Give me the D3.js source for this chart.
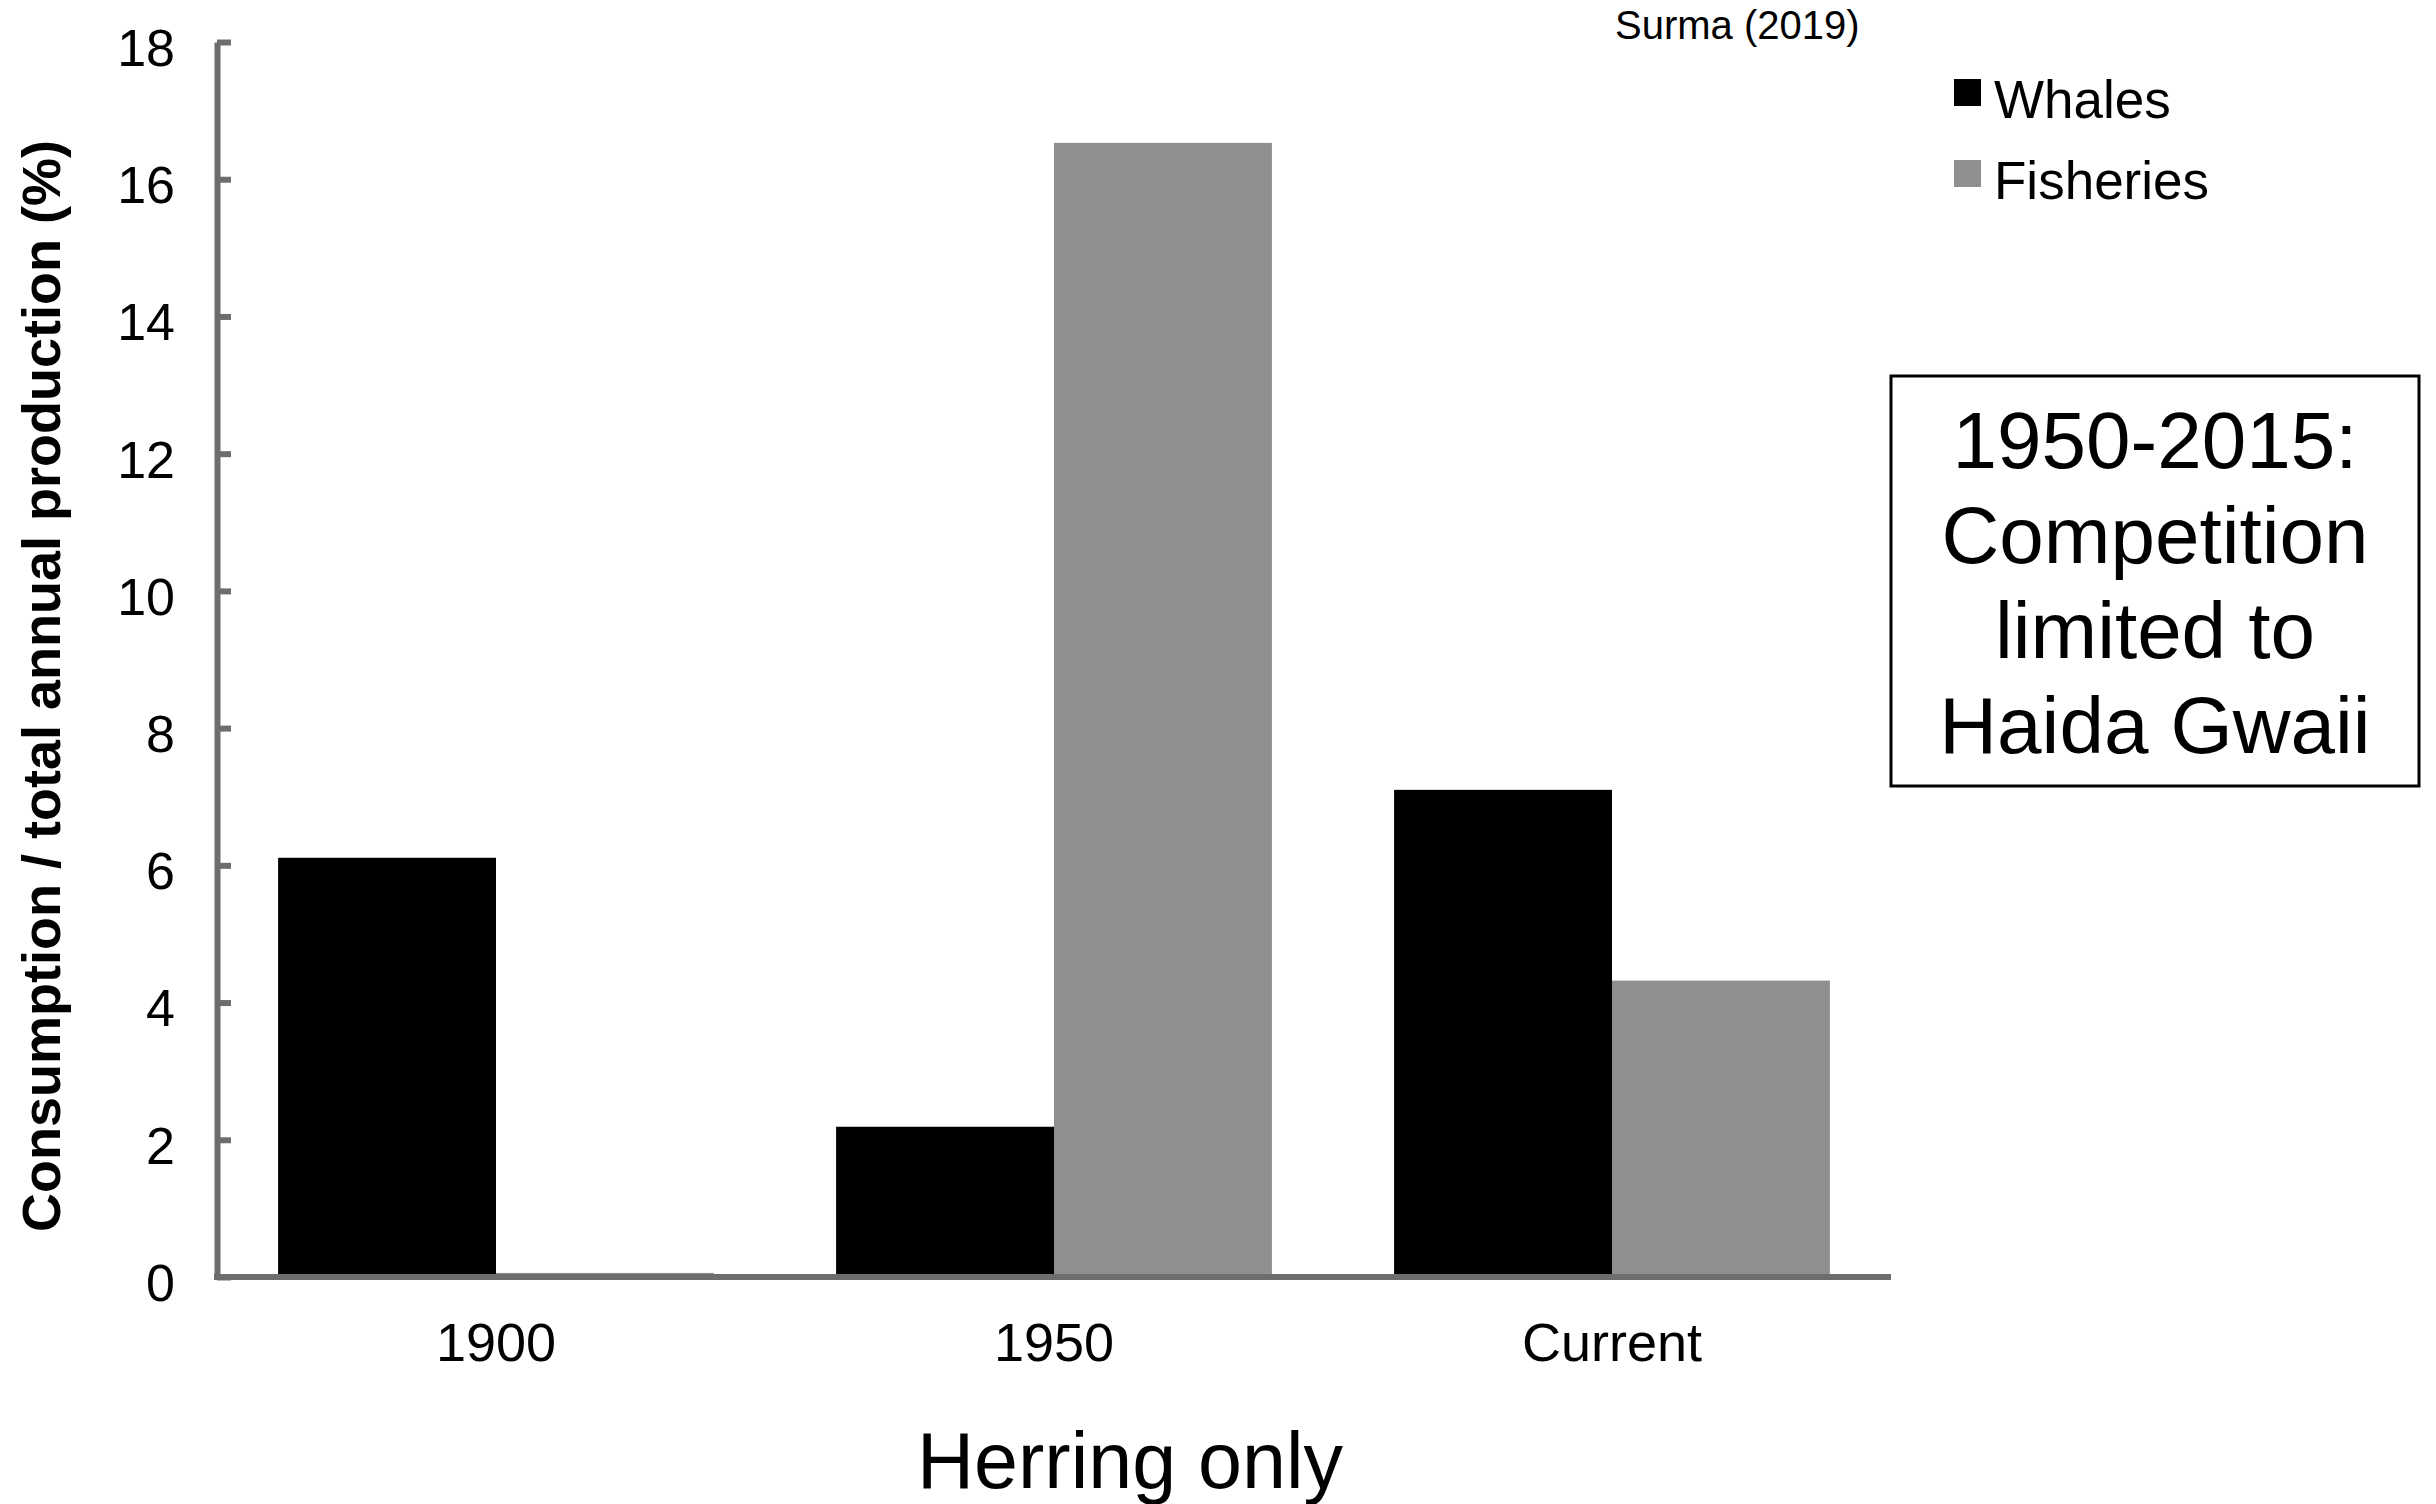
<!DOCTYPE html>
<html lang="en">
  <head>
    <meta charset="UTF-8" />
    <title>Herring only</title>
    <script src="https://cdn.jsdelivr.net/npm/d3@7"></script>
    <style>
      body { margin: 0; background: #fff; }
      svg { display: block; }
      text { font-family: "Liberation Sans", Arial, Helvetica, sans-serif; }
    </style>
  </head>
  <body>
    <svg width="2436" height="1504"></svg>
    <script>
      // data
      const categories = ["1900", "1950", "Current"];
      const series = ["Whales", "Fisheries"];
      const whales = [6.11, 2.19, 7.1];
      const fisheries = [0.06, 16.53, 4.32];
      const yTicks = [0, 2, 4, 6, 8, 10, 12, 14, 16, 18];
      const noteLines = ["1950-2015:", "Competition", "limited to", "Haida Gwaii"];

      const colors = d3.scaleOrdinal().domain(series).range(["#000000", "#8f8f8f"]);
      const axisGrey = "#6d6d6d";

      const rows = categories.map((c, i) => ({ cat: c, Whales: whales[i], Fisheries: fisheries[i] }));

      const svg = d3.select("svg");

      // plot area (window.top exists, so own names)
      const plotL = 217, plotR = 1891, plotT = 42, plotB = 1277;

      const x0 = d3.scaleBand()
        .domain(categories)
        .range([plotL, plotR])
        .paddingInner(0.219)
        .paddingOuter(0.1095);
      const x1 = d3.scaleBand()
        .domain(series)
        .range([0, x0.bandwidth()]);
      const y = d3.scaleLinear().domain([0, 18]).range([plotB, plotT]);

      // bars
      svg.append("g")
        .selectAll("g")
        .data(rows)
        .join("g")
        .attr("transform", d => `translate(${x0(d.cat)},0)`)
        .selectAll("rect")
        .data(d => series.map(s => ({ key: s, value: d[s] })))
        .join("rect")
        .attr("x", d => x1(d.key))
        .attr("width", x1.bandwidth())
        .attr("y", d => y(d.value))
        .attr("height", d => y(0) - y(d.value))
        .attr("fill", d => colors(d.key));

      // y axis, ticks pointing into the plot
      const yAxis = svg.append("g")
        .attr("transform", `translate(${plotL},0)`)
        .call(d3.axisLeft(y).tickValues(yTicks).tickSize(-14).tickSizeOuter(0).tickPadding(42));
      yAxis.select(".domain").attr("stroke", axisGrey).attr("stroke-width", 6);
      yAxis.selectAll(".tick line").attr("stroke", axisGrey).attr("stroke-width", 6);
      yAxis.selectAll(".tick text")
        .attr("font-size", 52)
        .attr("fill", "#000")
        .attr("dy", "0.45em");

      // x axis
      const xAxis = svg.append("g")
        .attr("transform", `translate(0,${plotB})`)
        .call(d3.axisBottom(x0).tickSize(0).tickSizeOuter(0).tickPadding(46));
      xAxis.select(".domain")
        .attr("d", `M${plotL - 3},0H${plotR}`)
        .attr("stroke", axisGrey).attr("stroke-width", 6);
      xAxis.selectAll(".tick text")
        .attr("font-size", 54)
        .attr("fill", "#000");

      // axis titles
      svg.append("text")
        .attr("transform", "translate(60,686) rotate(-90)")
        .attr("text-anchor", "middle")
        .attr("font-size", 54)
        .attr("font-weight", "bold")
        .text("Consumption / total annual production (%)");

      svg.append("text")
        .attr("x", 1130)
        .attr("y", 1488)
        .attr("text-anchor", "middle")
        .attr("font-size", 79)
        .text("Herring only");

      // source
      svg.append("text")
        .attr("x", 1615)
        .attr("y", 39)
        .attr("font-size", 40)
        .text("Surma (2019)");

      // legend
      const legend = svg.append("g")
        .selectAll("g")
        .data(series)
        .join("g")
        .attr("transform", (d, i) => `translate(1954,${118 + i * 81})`);
      legend.append("rect")
        .attr("y", -39)
        .attr("width", 27)
        .attr("height", 27)
        .attr("fill", d => colors(d));
      legend.append("text")
        .attr("x", 40)
        .attr("font-size", 53)
        .text(d => d);

      // note box
      svg.append("rect")
        .attr("x", 1891)
        .attr("y", 376)
        .attr("width", 528)
        .attr("height", 410)
        .attr("fill", "none")
        .attr("stroke", "#000")
        .attr("stroke-width", 3);
      svg.append("g")
        .selectAll("text")
        .data(noteLines)
        .join("text")
        .attr("x", 2155)
        .attr("y", (d, i) => 468 + i * 95)
        .attr("text-anchor", "middle")
        .attr("font-size", 80)
        .text(d => d);
    </script>
  </body>
</html>
